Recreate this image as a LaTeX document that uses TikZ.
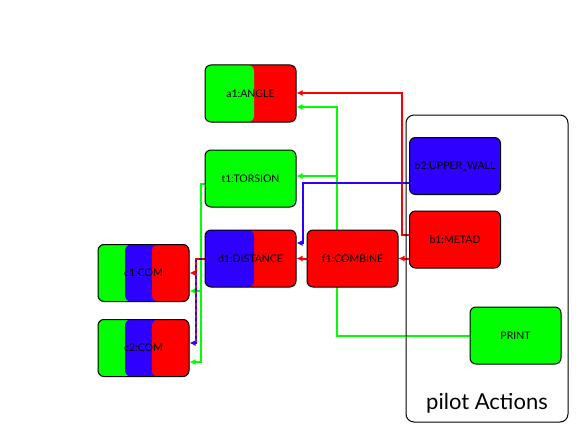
\documentclass[tikz,border=0pt]{standalone}
\usepackage{fontspec}
\setmainfont{Lato}
\usetikzlibrary{arrows.meta,positioning,backgrounds}
\definecolor{pgreen}{RGB}{0,255,0}
\definecolor{pred}{RGB}{255,0,0}
\definecolor{pblue}{RGB}{45,0,255}
\begin{document}
\begin{tikzpicture}[x=1pt,y=-1pt,>={Latex[length=6pt,width=6pt]}]
  \tikzstyle{box}=[draw,line width=1pt,rounded corners=6pt,minimum width=91pt,minimum height=57pt,font=\fontsize{10.5}{12}\selectfont,inner sep=1pt]
  \tikzstyle{link}=[line width=2pt,->]
  \tikzstyle{halves}=[path picture={\fill[pgreen,rounded corners=6pt] (path picture bounding box.south west) rectangle ([xshift=-42pt]path picture bounding box.north east);}]
  \tikzstyle{halvesb}=[path picture={\fill[pblue,rounded corners=6pt] (path picture bounding box.south west) rectangle ([xshift=-42pt]path picture bounding box.north east);}]
  \tikzstyle{thirds}=[path picture={\fill[pblue,rounded corners=6pt] ([xshift=27pt]path picture bounding box.south west) rectangle (path picture bounding box.north east);
      \fill[pred,rounded corners=6pt] ([xshift=54pt]path picture bounding box.south west) rectangle (path picture bounding box.north east);}]
  \useasboundingbox (0,0) rectangle (581,436);
  % pilot box
  \node[draw,line width=1pt,rounded corners=8pt,minimum width=162pt,minimum height=307pt] (pilot) at (487,268.5) {};
  \node[font=\fontsize{22}{26}\selectfont] (plabel) at (487,403) {pilot Actions};
  % variables
  \node[box,fill=pred,halves] (a1) at (250.5,93.5) {a1:ANGLE};
  \node[box,fill=pgreen,below=27pt of a1] (t1) {t1:TORSION};
  \node[box,fill=pred,halvesb,below=22pt of t1] (d1) {d1:DISTANCE};
  \node[box,fill=pred,right=10pt of d1] (f1) {f1:COMBINE};
  \node[box,fill=pblue] (b2) at (455,166) {b2:UPPER\_WALL};
  \node[box,fill=pred] (b1) at (455,239.5) {b1:METAD};
  \node[box,fill=pgreen] (pr) at (515.5,335.5) {PRINT};
  \node[box,fill=pgreen,thirds] (c1) at (143.5,273) {c1:COM};
  \node[box,fill=pgreen,thirds,below=17pt of c1] (c2) {c2:COM};
  % bends
  \coordinate (rtop) at (402,93);
  \coordinate (gtop) at (337,107);
  \coordinate (bcor) at (303,243);
  \coordinate (gleft) at (201,362);
  \coordinate (dleft) at (196,343);
  \coordinate (tin) at ([yshift=2.5pt]t1.east);
  \coordinate (cin) at ([yshift=-18pt]c1.east);
  \begin{scope}[on background layer]
    \draw[link,pred] ([yshift=4.5pt]b1.west) -| (rtop) -- (rtop -| a1.east);
    \draw[link,pred] (b1.west |- f1.east) -- (f1.east);
    \draw[link,pred] (f1.west) -- (d1.east);
    \draw[link,pgreen] (pr.west) -| (gtop) -- (gtop -| a1.east);
    \draw[link,pgreen] (gtop |- tin) -- (tin);
    \draw[link,pblue] ([yshift=-17pt]b2.west) -| (bcor) -- (bcor -| d1.east);
    \draw[link,pgreen] ([yshift=-5.5pt]t1.west) -| (gleft) -- (gleft -| c2.east);
    \draw[link,pgreen] (gleft |- cin) -- (cin);
    \draw[link,pblue] (d1.west) -| (dleft) -- (dleft -| c2.east);
    \draw[link,pred,dashed] (d1.west) -| (dleft |- c1.east) -- (c1.east);
    \draw[link,pred,dashed,-] (dleft |- c1.east) -- (dleft);
  \end{scope}
\end{tikzpicture}
\end{document}
